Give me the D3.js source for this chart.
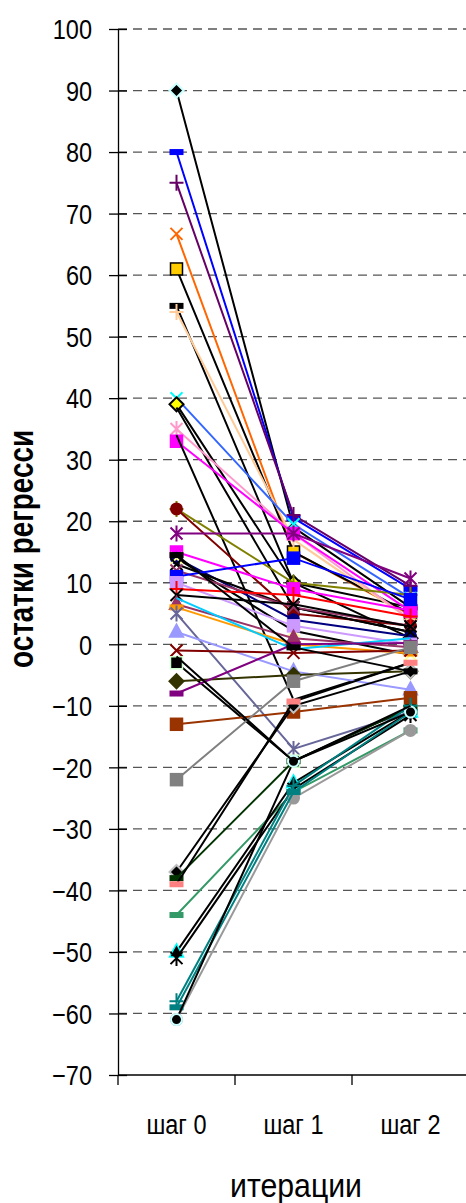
<!DOCTYPE html>
<html>
<head>
<meta charset="utf-8">
<script src="https://cdn.jsdelivr.net/npm/d3@7"></script>
<style>
  body { margin: 0; background: #fff; }
  svg { display: block; }
  text { font-family: Arial, "Liberation Sans", sans-serif; fill: #000; }
</style>
</head>
<body>
<svg id="chart"></svg>
<script>
// categories and tick labels
var categories = ["шаг 0", "шаг 1", "шаг 2"];
var yTicks = [-70, -60, -50, -40, -30, -20, -10, 0, 10, 20, 30, 40, 50, 60, 70, 80, 90, 100];

var step0 = [90, 80, 75, 66.7, 61, 55, 54, 40, 39, 38.5, 35, 33, 34, 22, 22, 18, 15, 14, 14, 13, 12, 11, 10, 9, 8, 6.5, 6, 7.5, 5, 2, -1, -3, -6, -8, -13, -22, -37, -38, -39, -44, -50, -51, -61, -58, -59, -61, 14.5, -2];
var step1 = [19, 20.5, 21, 15, 15, 10, 17, 19.5, 10, 6, 18, 18, -9, 10, 5, 18, 9, 4, 2.2, 6, 6, 14, 3, 8, 6.5, 1, 0, -0.8, -17, -4.4, -1.4, -19, -5, 0, -11, -6, -10, -19, -9.3, -24, -22.5, -23.5, -25, -23, -24, -19, -0.5, -19];
var step2 = [6, 9, 9.5, 4.8, 5, 6, 4, 7.5, 1, 2, 4, 5.4, -3, 8, 3, 10.7, 5.5, 1.3, -1.7, 2, 3, 7.3, 0, 4.5, 2.9, -0.5, -1.5, 1, -11, -7.4, -1, -10.3, -4.4, 0.2, -8.7, -0.5, -4.4, -10.3, -3, -14, -11, -11.5, -14, -10, -11, -11, -4.4, -10];

// styles per series
var lineColors = ["#000", "#0000ff", "#660066", "#ff6600", "#000", "#000", "#ffcc99", "#3366ff", "#000", "#000", "#ff99cc", "#ff00ff", "#000", "#808000", "#800000", "#800080", "#ff00ff", "#000080", "#000", "#000", "#993366", "#0000ff", "#cc99ff", "#ff0000", "#000", "#993366", "#ff9900", "#00ccff", "#666699", "#9999ff", "#800000", "#000", "#333300", "#800080", "#993300", "#808080", "#000", "#003300", "#000", "#339966", "#000", "#000", "#999999", "#008080", "#008080", "#000", "#000", "#000"];
var markerShapes = ["diamond", "dash", "plus", "x", "square", "dash", "plus", "x", "diamond", "none", "asterisk", "square", "none", "plus", "circle", "asterisk", "square", "circle", "x", "x", "x", "square", "square", "plus", "x", "triangle", "dash", "none", "asterisk", "triangle", "x", "square", "diamond", "dash", "square", "square", "diamond", "dash", "dash", "dash", "triangle", "asterisk", "circle", "plus", "dash", "circle", "dash", "none"];
var markerFills = ["#000", "#0000ff", "none", "none", "#ffcc00", "#000", "none", "none", "#ffff00", "none", "none", "#ff00ff", "none", "none", "#800000", "none", "#ff00ff", "#000080", "none", "none", "none", "#0000ff", "#cc99ff", "none", "none", "#993366", "#ff9900", "none", "none", "#9999ff", "none", "#000", "#333300", "#800080", "#993300", "#808080", "#000", "#003300", "#ff8080", "#339966", "#000", "none", "#999999", "none", "#008080", "#000", "#000", "none"];
var markerStrokes = ["#ccffff", "#0000ff", "#660066", "#ff6600", "#000", "#000", "#ffcc99", "#00ffff", "#000", "none", "#ff99cc", "#ff00ff", "none", "#808000", "#800000", "#800080", "#ff00ff", "#000080", "#ffff99", "#000", "#993366", "#0000ff", "#cc99ff", "#ff0000", "#000", "#993366", "#ff9900", "none", "#666699", "#9999ff", "#800000", "#ccffcc", "#333300", "#800080", "#993300", "#808080", "#c0c0c0", "#003300", "#ff8080", "#339966", "#00ffff", "#000", "#999999", "#008080", "#008080", "#ccffff", "#000", "none"];

var width = 466;
var height = 1203;

var svg = d3.select("#chart")
    .attr("width", width)
    .attr("height", height);

var y = d3.scaleLinear().domain([-70, 100]).range([1075, 29]);
var x = d3.scaleBand().domain(categories).range([118, 469]);
function cx(c) { return x(c) + x.bandwidth() / 2; }

// dashed grid lines
svg.append("g").selectAll("line")
    .data(yTicks.filter(function(t) { return t > -70; }))
    .enter().append("line")
    .attr("x1", 118).attr("x2", width)
    .attr("y1", function(d) { return y(d); })
    .attr("y2", function(d) { return y(d); })
    .attr("stroke", "#555")
    .attr("stroke-width", 1.3)
    .attr("stroke-dasharray", "9,6");

// y axis
var yAxis = svg.append("g")
    .attr("transform", "translate(118,0)")
    .call(d3.axisLeft(y).tickValues(yTicks).tickSizeInner(9).tickSizeOuter(0));
yAxis.select(".domain").attr("stroke", "#000").attr("stroke-width", 1.3);
yAxis.selectAll(".tick line").attr("x1", 9).attr("stroke", "#000").attr("stroke-width", 1.3);
yAxis.selectAll(".tick text")
    .attr("x", null)
    .attr("dy", "0.36em")
    .attr("transform", "translate(-26,0) scale(0.87,1)")
    .style("font-size", "27px")
    .style("font-family", "Arial, 'Liberation Sans', sans-serif");

// x axis
var xAxis = svg.append("g");
xAxis.append("line")
    .attr("x1", 118).attr("x2", width)
    .attr("y1", 1075).attr("y2", 1075)
    .attr("stroke", "#000").attr("stroke-width", 1.3);
xAxis.selectAll(".xt")
    .data(categories)
    .enter().append("line")
    .attr("class", "xt")
    .attr("x1", function(d) { return x(d); })
    .attr("x2", function(d) { return x(d); })
    .attr("y1", 1075).attr("y2", 1085)
    .attr("stroke", "#000").attr("stroke-width", 1.3);
xAxis.selectAll("text")
    .data(categories)
    .enter().append("text")
    .attr("transform", function(d) { return "translate(" + cx(d) + ",1134) scale(0.87,1)"; })
    .attr("text-anchor", "middle")
    .style("font-size", "27px")
    .text(function(d) { return d; });

// axis titles
svg.append("text")
    .attr("x", 296).attr("y", 1197)
    .attr("text-anchor", "middle")
    .attr("textLength", 132)
    .attr("lengthAdjust", "spacingAndGlyphs")
    .style("font-size", "34px")
    .text("итерации");

svg.append("text")
    .attr("transform", "translate(33,549) rotate(-90)")
    .attr("text-anchor", "middle")
    .attr("textLength", 238)
    .attr("lengthAdjust", "spacingAndGlyphs")
    .style("font-size", "35px")
    .style("font-weight", "bold")
    .text("остатки регресси");

// build series
var series = step0.map(function(v, i) {
    return {
        values: [step0[i], step1[i], step2[i]].map(function(val, j) {
            return { cat: categories[j], value: val };
        }),
        color: lineColors[i],
        shape: markerShapes[i],
        fill: markerFills[i],
        stroke: markerStrokes[i]
    };
});

var line = d3.line()
    .x(function(d) { return cx(d.cat); })
    .y(function(d) { return y(d.value); });

function drawMarker(g, s, px, py) {
    var m = g.append("g").attr("transform", "translate(" + px + "," + py + ")");
    var r = 6;
    if (s.shape === "diamond") {
        m.append("path").attr("d", "M0,-7L7,0L0,7L-7,0Z")
            .attr("fill", s.fill).attr("stroke", s.stroke).attr("stroke-width", 2);
    } else if (s.shape === "square") {
        m.append("rect").attr("x", -r).attr("y", -r).attr("width", 2 * r).attr("height", 2 * r)
            .attr("fill", s.fill).attr("stroke", s.stroke).attr("stroke-width", 1.5);
    } else if (s.shape === "triangle") {
        m.append("path").attr("d", "M0,-8L7,5L-7,5Z")
            .attr("fill", s.fill).attr("stroke", s.stroke).attr("stroke-width", 1.5);
    } else if (s.shape === "circle") {
        m.append("circle").attr("r", 5.5)
            .attr("fill", s.fill).attr("stroke", s.stroke).attr("stroke-width", 2);
    } else if (s.shape === "dash") {
        m.append("rect").attr("x", -7).attr("y", -3).attr("width", 14).attr("height", 6)
            .attr("fill", s.fill).attr("stroke", "none");
    } else if (s.shape === "x" || s.shape === "asterisk" || s.shape === "plus") {
        var p = "";
        if (s.shape !== "plus") p += "M-6,-6L6,6M-6,6L6,-6";
        if (s.shape === "asterisk") p += "M0,-8L0,8";
        if (s.shape === "plus") p += "M-7,0L7,0M0,-8L0,8";
        m.append("path").attr("d", p)
            .attr("fill", "none").attr("stroke", s.stroke).attr("stroke-width", 2);
    }
}

var plot = svg.append("g");
series.forEach(function(s) {
    var g = plot.append("g");
    g.append("path")
        .datum(s.values)
        .attr("d", line)
        .attr("fill", "none")
        .attr("stroke", s.color)
        .attr("stroke-width", 2);
    s.values.forEach(function(d) {
        drawMarker(g, s, cx(d.cat), y(d.value));
    });
});
</script>
</body>
</html>
